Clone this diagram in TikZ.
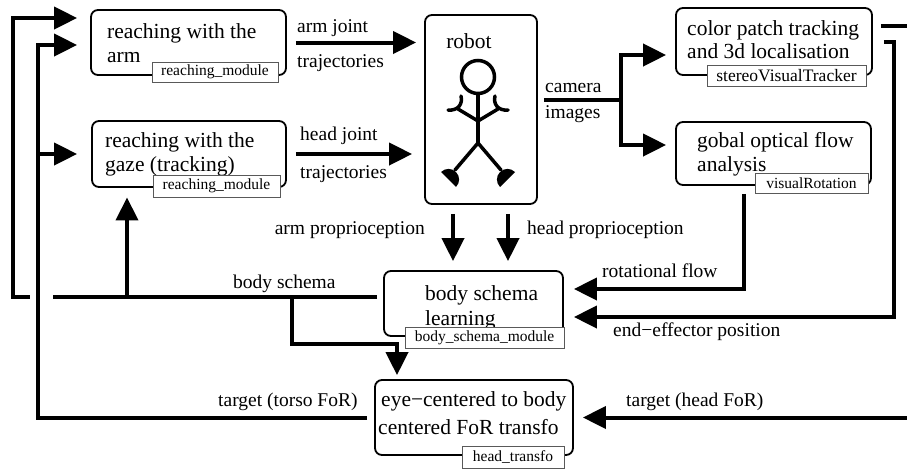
\documentclass[tikz,border=0pt]{standalone}
\usepackage{fontspec}
\setmainfont{Liberation Serif}
\usetikzlibrary{arrows.meta}
\newcommand\bxfont{\fontsize{21.5}{26}\selectfont}
\newcommand\lbfont{\fontsize{19.5}{23}\selectfont}
\newcommand\mdfont{\fontsize{15.5}{18}\selectfont}
\newcommand\mdwidefont{\fontsize{17.5}{20}\selectfont}

\begin{document}
\begin{tikzpicture}[x=1pt, y=1pt, yscale=-1,
  module/.style={draw, line width=1.8pt, rounded corners=7pt, inner sep=0pt},
  tag/.style={draw=black!65, line width=0.9pt, fill=white, inner sep=0pt, font=\mdfont},
  boxtext/.style={anchor=base west, inner sep=0pt, font=\bxfont},
  edgetext/.style={anchor=base west, inner sep=0pt, font=\lbfont},
  wire/.style={line width=4pt},
  flow/.style={wire, -{Triangle[length=23pt, width=22pt]}},
  limb/.style={line width=3.5pt, line cap=round}
]
\useasboundingbox (0,0) rectangle (907,469);

% ---------- modules ----------
\node[module, minimum width=195pt, minimum height=65pt] (armbox) at (188.5,42.5) {};
\node[module, minimum width=194pt, minimum height=66pt] (gazebox) at (189,154) {};
\node[module, minimum width=112pt, minimum height=189pt] (robot) at (481,109.5) {};
\node[module, minimum width=196pt, minimum height=67pt] (colorbox) at (774,41.5) {};
\node[module, minimum width=195pt, minimum height=63pt] (flowbox) at (773.5,153.5) {};
\node[module, minimum width=179pt, minimum height=65pt] (schemabox) at (473.5,303.5) {};
\node[module, minimum width=198pt, minimum height=75pt] (eyebox) at (474,417.5) {};

% ---------- module titles ----------
\node[boxtext] (armtxta) at (107,38) {reaching with the};
\node[boxtext] (armtxtb) at (107,62) {arm};
\node[boxtext] (gazetxta) at (105,147) {reaching with the};
\node[boxtext] (gazetxtb) at (105,171) {gaze (tracking)};
\node[boxtext] (colortxta) at (687,35) {color patch tracking};
\node[boxtext] (colortxtb) at (687,58) {and 3d localisation};
\node[boxtext] (flowtxta) at (697,147) {gobal optical flow};
\node[boxtext] (flowtxtb) at (697,171) {analysis};
\node[boxtext] (schematxta) at (425,300) {body schema};
\node[boxtext] (schematxtb) at (425,325) {learning};
\node[boxtext] (eyetxta) at (381,406) {eye−centered to body};
\node[boxtext] (eyetxtb) at (378,434) {centered FoR transfo};
\node[boxtext, anchor=base] (robottxt) at (469,48) {robot};

% ---------- software component tags ----------
\node[tag, minimum width=126pt, minimum height=20pt] (armtag) at (215,72) {reaching\_module};
\node[tag, minimum width=127pt, minimum height=22pt] (gazetag) at (216.5,186) {reaching\_module};
\node[tag, font=\mdwidefont, minimum width=159pt, minimum height=21pt] (colortag) at (786.5,76) {stereoVisualTracker};
\node[tag, minimum width=113pt, minimum height=20pt] (flowtag) at (811.5,183) {visualRotation};
\node[tag, minimum width=159pt, minimum height=21pt] (schematag) at (484.5,337.5) {body\_schema\_module};
\node[tag, minimum width=102pt, minimum height=22pt] (eyetag) at (513,457) {head\_transfo};

% ---------- stick figure ----------
\draw[limb] (478,77) circle[radius=16.5pt];
\draw[limb] (478,94) -- (478,143);
\draw[limb] (458,109) -- (478,121) -- (498,109);
\draw[limb] (448,110) .. controls (458,111) and (463,104) .. (461,96);
\draw[limb] (508,110) .. controls (498,111) and (493,104) .. (495,96);
\draw[limb] (455,170) -- (478,143) -- (501,170);
\fill (441,172) arc[start angle=225, end angle=405, radius=10.6pt] -- cycle;
\fill (515,172) arc[start angle=315, end angle=135, radius=10.6pt] -- cycle;

% ---------- connector labels ----------
\node[edgetext] (lbarmj) at (297,32) {arm joint};
\node[edgetext] (lbarmt) at (297,67) {trajectories};
\node[edgetext] (lbheadj) at (300,140) {head joint};
\node[edgetext] (lbheadt) at (300,178) {trajectories};
\node[edgetext] (lbcam) at (545,92) {camera};
\node[edgetext] (lbimg) at (545,118) {images};
\node[edgetext, anchor=base east] (lbarmp) at (425,234) {arm proprioception};
\node[edgetext] (lbheadp) at (527,234) {head proprioception};
\node[edgetext] (lbrot) at (602,277) {rotational flow};
\node[edgetext] (lbee) at (613,336) {end−effector position};
\node[edgetext] (lbbs) at (233,288) {body schema};
\node[edgetext] (lbtorso) at (218,406) {target (torso FoR)};
\node[edgetext] (lbhead) at (626,406) {target (head FoR)};

% ---------- routing points ----------
\coordinate (camfork) at (621,100);
\coordinate (camup) at (621,55);
\coordinate (camdown) at (621,145);
\coordinate (armprop) at (453,240);
\coordinate (headprop) at (508,240);
\coordinate (rotflow) at (744,289);
\coordinate (eecorner) at (894,317);
\coordinate (headfor) at (930,26);
\coordinate (torsotop) at (38,45);
\coordinate (torsolane) at (38,154);
\coordinate (bsline) at (200,297);
\coordinate (outer) at (13,18);
\coordinate (bsup) at (127,297);
\coordinate (bsdown) at (292,297);
\coordinate (bsbend) at (397,344);

% ---------- connectors ----------
% joint trajectories
\draw[flow, shorten <=9pt, shorten >=8pt] (armbox.east) -- (armbox.east -| robot.west);
\draw[flow, shorten <=9pt, shorten >=12pt] (gazebox.east) -- (gazebox.east -| robot.west);
% camera images
\draw[wire, shorten <=6pt] (robot.east |- camfork) -- (camfork);
\draw[flow, shorten >=9pt] (camfork) -- (camup) -- (camup -| colorbox.west);
\draw[flow, shorten >=9pt] (camfork) -- (camdown) -- (camdown -| flowbox.west);
% proprioception
\draw[flow, shorten <=9pt, shorten >=9pt] (robot.south -| armprop) -- (schemabox.north -| armprop);
\draw[flow, shorten <=9pt, shorten >=9pt] (robot.south -| headprop) -- (schemabox.north -| headprop);
% rotational flow
\draw[flow, shorten <=8pt, shorten >=10pt] (flowbox.south -| rotflow) |- (schemabox.east |- rotflow);
% end-effector position
\draw[flow, shorten <=11pt, shorten >=10pt] (colorbox.east) -| (eecorner) -- (schemabox.east |- eecorner);
% target in head frame
\draw[flow, shorten <=8pt, shorten >=9pt] (colorbox.east |- headfor) -| (headfor |- eyebox.east) -- (eyebox.east);
% body schema
\draw[flow, shorten <=6pt, shorten >=13pt] (schemabox.west |- bsline) -| (outer) -- (outer -| armbox.west);
\draw[white, line width=6pt] (30,297) -- (53,297);
\draw[flow] (bsup) -- (bsup |- gazetag.south);
\draw[flow, shorten >=4pt] (bsdown) |- (bsbend) -- (bsbend |- eyebox.north);
% target in torso frame
\draw[flow, shorten <=7pt, shorten >=13pt] (eyebox.west) -| (torsotop) -- (torsotop -| armbox.west);
\draw[flow, shorten >=14pt] (torsolane |- gazebox.west) -- (gazebox.west);
\end{tikzpicture}
\end{document}
